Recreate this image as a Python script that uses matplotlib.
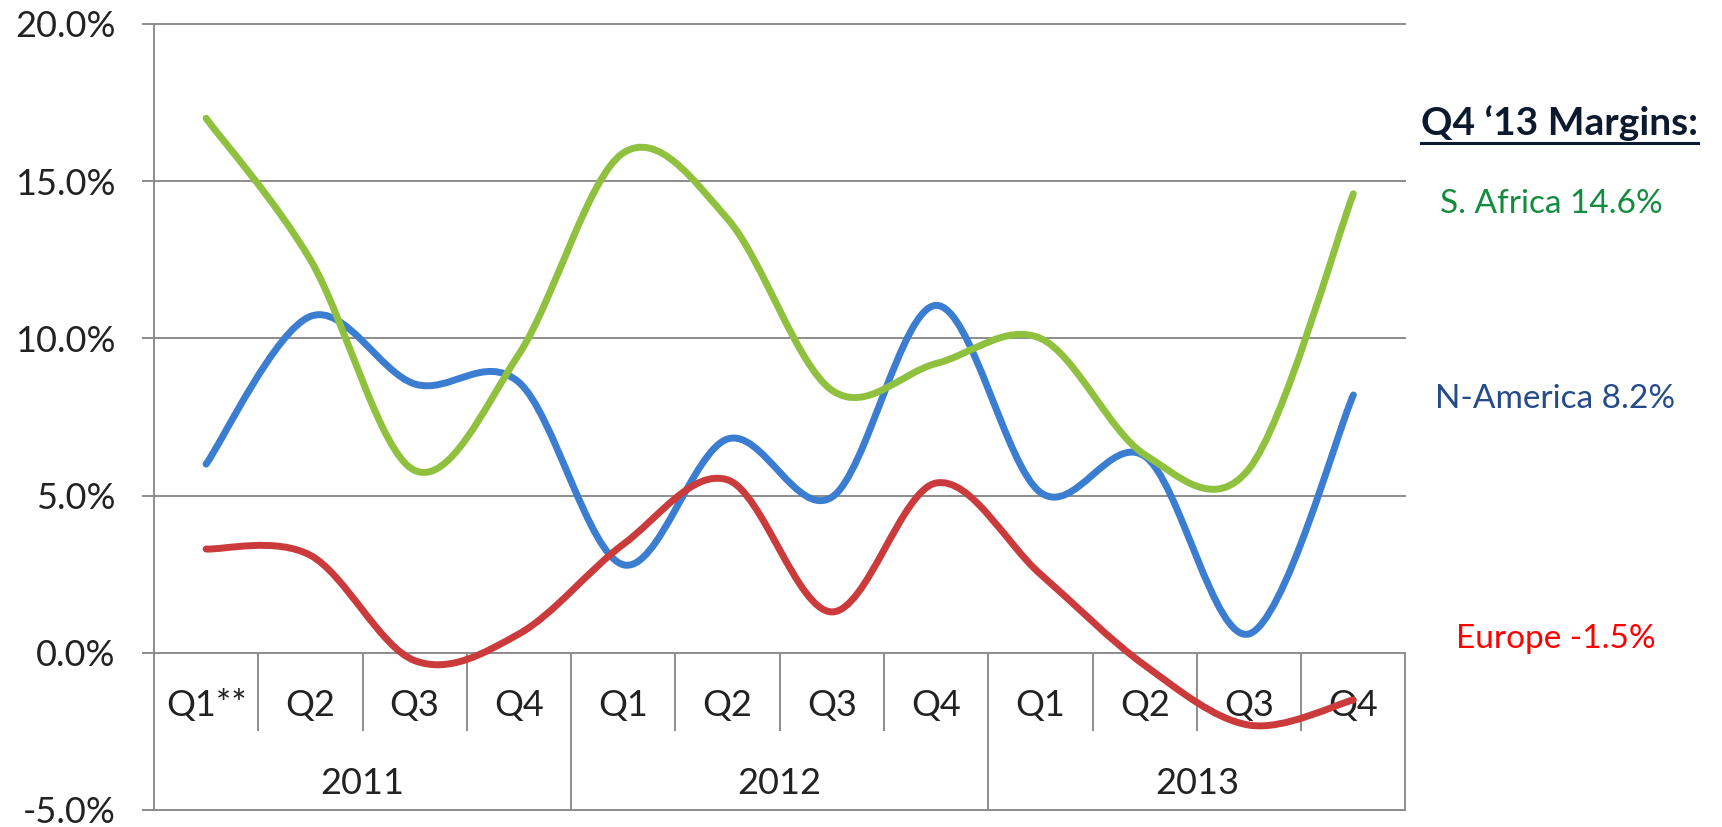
import numpy as np
import matplotlib.pyplot as plt
from matplotlib.path import Path
from matplotlib.patches import PathPatch
from matplotlib.lines import Line2D

plt.rcParams['font.family'] = ['Lato', 'DejaVu Sans']

quarters = ['Q1**', 'Q2', 'Q3', 'Q4', 'Q1', 'Q2', 'Q3', 'Q4', 'Q1', 'Q2', 'Q3', 'Q4']
years = ['2011', '2012', '2013']
s_africa = [17.0, 12.5, 5.8, 9.5, 15.9, 13.8, 8.35, 9.2, 10.0, 6.3, 5.85, 14.6]
n_america = [6.0, 10.7, 8.55, 8.6, 2.8, 6.8, 4.95, 11.05, 5.1, 6.25, 0.6, 8.2]
europe = [3.3, 3.1, -0.25, 0.6, 3.45, 5.5, 1.3, 5.4, 2.5, -0.4, -2.3, -1.5]
yticks = [-5, 0, 5, 10, 15, 20]

c_green = '#8fc13e'
c_blue = '#3b7dd0'
c_red = '#cc3b3b'
c_grid = '#8c8c8c'


def smooth_path(x, y):
  # smoothed line through every point: cardinal spline written as bezier pieces
  pts = np.column_stack([x, y])
  ext = np.vstack([pts[0], pts, pts[-1]])
  verts = [pts[0]]
  codes = [Path.MOVETO]
  for i in range(len(pts) - 1):
    p0, p1, p2, p3 = ext[i], ext[i + 1], ext[i + 2], ext[i + 3]
    verts += [p1 + (p2 - p0) / 6, p2 - (p3 - p1) / 6, p2]
    codes += [Path.CURVE4] * 3
  return Path(verts, codes)


fig = plt.figure(figsize=(17.22, 8.27), dpi=100)
ax = fig.add_axes([0.0894, 0.0206, 0.7268, 0.9504])
ax.set_xlim(0, 12)
ax.set_ylim(-5, 20)

for s in ['top', 'right', 'bottom']:
  ax.spines[s].set_visible(False)
ax.spines['left'].set_color(c_grid)
ax.spines['left'].set_linewidth(1.4)

for v in yticks:
  ax.axhline(v, color=c_grid, lw=1.4, zorder=1, clip_on=False)
ax.set_yticks(yticks)
ax.set_yticklabels([f"{v:.1f}%" for v in yticks], fontsize=26, color='#222222')
ax.tick_params(axis='y', length=8.6, width=1.4, color=c_grid, direction='out', pad=19)
ax.set_xticks([])

# category table under the zero line
ax.vlines([1, 2, 3, 5, 6, 7, 9, 10, 11], -2.48, 0, color=c_grid, lw=1.4, zorder=1)
ax.vlines([4, 8, 12], -5, 0, color=c_grid, lw=1.4, zorder=1, clip_on=False)
for i, q in enumerate(quarters):
  ax.text(i + 0.5, -1.68, q, ha='center', va='center', fontsize=26, color='#222222', zorder=2)
for j, yr in enumerate(years):
  ax.text(4 * j + 2, -4.16, yr, ha='center', va='center', fontsize=26, color='#222222', zorder=2)

xs = np.arange(len(quarters)) + 0.5
for vals, col, z in [(n_america, c_blue, 3), (s_africa, c_green, 4), (europe, c_red, 4)]:
  ax.add_patch(PathPatch(smooth_path(xs, vals), fill=False, edgecolor=col, lw=5,
                         capstyle='round', joinstyle='round', zorder=z))

title = fig.text(0.825, 0.8368, "Q4 \u201813 Margins:", fontsize=28, fontweight='bold',
                 color='#0b1a2e', ha='left', va='baseline')
fig.text(0.8362, 0.7424, "S. Africa 14.6%", fontsize=24, color='#138c3f', ha='left', va='baseline')
fig.text(0.8333, 0.5067, "N-America 8.2%", fontsize=24, color='#254b8a', ha='left', va='baseline')
fig.text(0.8455, 0.2164, "Europe -1.5%", fontsize=24, color='#ff0000', ha='left', va='baseline')

# underline the heading
fig.canvas.draw()
bb = title.get_window_extent().transformed(fig.transFigure.inverted())
uy = 0.8368 - 0.0095
fig.add_artist(Line2D([bb.x0, bb.x1], [uy, uy], transform=fig.transFigure,
                      color='#0b1a2e', lw=2.2))

fig.savefig("out.png", dpi=100)
